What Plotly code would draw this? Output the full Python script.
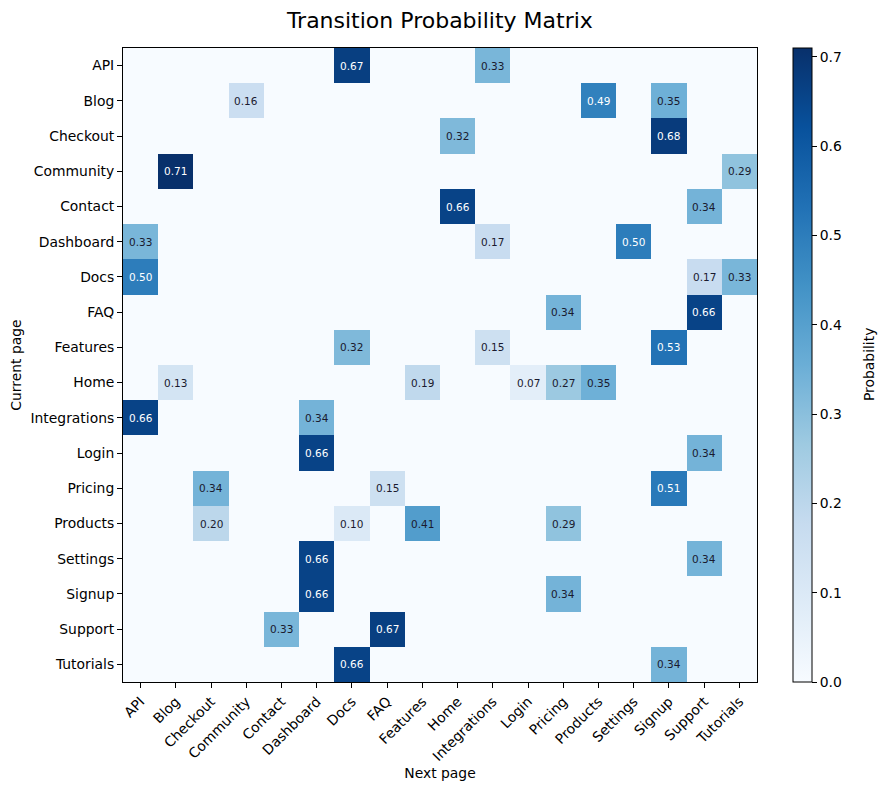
import plotly.graph_objects as go

pages = ["API", "Blog", "Checkout", "Community", "Contact", "Dashboard", "Docs", "FAQ",
         "Features", "Home", "Integrations", "Login", "Pricing", "Products", "Settings",
         "Signup", "Support", "Tutorials"]

# Non-zero transition probabilities: current page -> {next page: probability}
row_API = {"Docs": 0.67, "Integrations": 0.33}
row_Blog = {"Community": 0.16, "Products": 0.49, "Signup": 0.35}
row_Checkout = {"Home": 0.32, "Signup": 0.68}
row_Community = {"Blog": 0.71, "Tutorials": 0.29}
row_Contact = {"Home": 0.66, "Support": 0.34}
row_Dashboard = {"API": 0.33, "Integrations": 0.17, "Settings": 0.50}
row_Docs = {"API": 0.50, "Support": 0.17, "Tutorials": 0.33}
row_FAQ = {"Pricing": 0.34, "Support": 0.66}
row_Features = {"Docs": 0.32, "Integrations": 0.15, "Signup": 0.53}
row_Home = {"Blog": 0.13, "Features": 0.19, "Login": 0.07, "Pricing": 0.27, "Products": 0.35}
row_Integrations = {"API": 0.66, "Dashboard": 0.34}
row_Login = {"Dashboard": 0.66, "Support": 0.34}
row_Pricing = {"Checkout": 0.34, "FAQ": 0.15, "Signup": 0.51}
row_Products = {"Checkout": 0.20, "Docs": 0.10, "Features": 0.41, "Pricing": 0.29}
row_Settings = {"Dashboard": 0.66, "Support": 0.34}
row_Signup = {"Dashboard": 0.66, "Pricing": 0.34}
row_Support = {"Contact": 0.33, "FAQ": 0.67}
row_Tutorials = {"Docs": 0.66, "Signup": 0.34}

rows = [row_API, row_Blog, row_Checkout, row_Community, row_Contact, row_Dashboard,
        row_Docs, row_FAQ, row_Features, row_Home, row_Integrations, row_Login,
        row_Pricing, row_Products, row_Settings, row_Signup, row_Support, row_Tutorials]

z = [[r.get(p, 0.0) for p in pages] for r in rows]
zmax = max(max(r) for r in z)

FONT = "DejaVu Sans"
FS = 13.9

fig = go.Figure(go.Heatmap(
    z=z, x=pages, y=pages, colorscale="Blues", zmin=0, zmax=zmax,
    colorbar=dict(
        x=1.057, xanchor="left", xref="paper", y=0.5, yanchor="middle", len=1, lenmode="fraction",
        xpad=0, ypad=0,
        thickness=19, thicknessmode="pixels", outlinecolor="black", outlinewidth=1,
        tickvals=[0, 0.1, 0.2, 0.3, 0.4, 0.5, 0.6, 0.7], tickformat=".1f",
        ticks="outside", ticklen=5, tickcolor="black",
        tickfont=dict(family=FONT, size=FS, color="black"),
    ),
))

annotations = []
for i, r in enumerate(z):
    for j, v in enumerate(r):
        if v > 0:
            annotations.append(dict(
                x=pages[j], y=pages[i], text=f"{v:.2f}", showarrow=False,
                font=dict(family=FONT, size=10.5,
                          color="white" if v > 0.45 else "#1a1a2e"),
            ))

# colorbar title
annotations.append(dict(
    x=1.1767, y=0.5, xref="paper", yref="paper", text="Probability", showarrow=False,
    textangle=-90, xanchor="center", yanchor="middle",
    font=dict(family=FONT, size=FS, color="black"),
))

fig.update_layout(
    width=885, height=790,
    margin=dict(l=123, r=128, t=48, b=108, autoexpand=False),
    paper_bgcolor="white", plot_bgcolor="white",
    title=dict(text="Transition Probability Matrix", x=0.497, xanchor="center",
               y=0.974, yanchor="middle",
               font=dict(family=FONT, size=22, color="black")),
    annotations=annotations,
    font=dict(family=FONT, color="black"),
)
fig.update_xaxes(
    title=dict(text="Next page", font=dict(family=FONT, size=FS), standoff=5),
    tickangle=-45, ticks="outside", ticklen=5, tickcolor="black",
    tickfont=dict(family=FONT, size=FS, color="black"),
    showline=True, linecolor="black", linewidth=1, mirror=True, showgrid=False,
)
fig.update_yaxes(
    title=dict(text="Current page", font=dict(family=FONT, size=FS), standoff=5),
    autorange="reversed", ticks="outside", ticklen=5, tickcolor="black",
    tickfont=dict(family=FONT, size=FS, color="black"),
    showline=True, linecolor="black", linewidth=1, mirror=True, showgrid=False,
)

fig.write_html("out.html")
